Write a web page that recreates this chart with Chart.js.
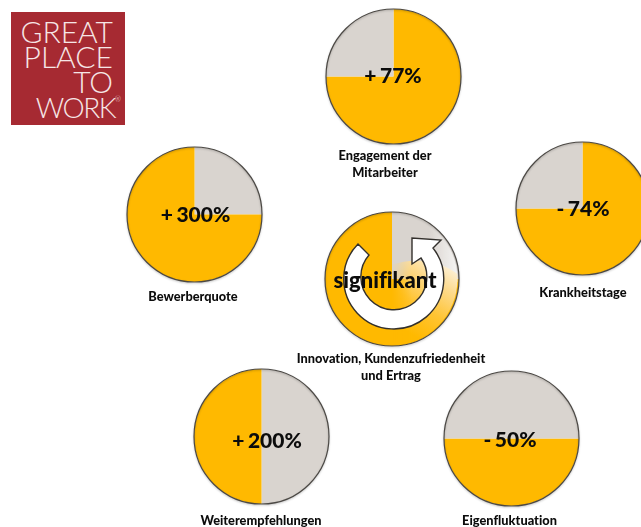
<!DOCTYPE html>
<html lang="de">
<head>
<meta charset="utf-8">
<title>Great Place to Work</title>
<script src="https://cdn.jsdelivr.net/npm/chart.js@4"></script>
<style>
    html, body { margin: 0; padding: 0; background: #fff; }
    #stage { position: relative; width: 641px; height: 527px; overflow: hidden; font-family: Lato, sans-serif; color: #0c0c0c; font-variant-ligatures: none; }
    #stage canvas { position: absolute; }
    #logo { position: absolute; left: 11px; top: 12px; width: 114px; height: 113px; background: #a62a32; }
    #logo span { position: absolute; right: 12px; color: #f6e6e6; font-size: 30px; font-weight: 300; line-height: 26px; white-space: nowrap; }
    #logo sup { position: absolute; left: 100%; top: 2px; font-size: 7px; line-height: 7px; }
    .label { position: absolute; font-weight: 900; font-size: 12.8px; line-height: 17px; text-align: center; white-space: nowrap; transform: translate(-50%, -50%); }
    .value { position: absolute; font-weight: 900; font-size: 21px; line-height: 26px; word-spacing: -1.5px; white-space: nowrap; transform: translate(-50%, -50%); }
    .value.big { font-size: 22px; }
    #swirl { position: absolute; left: 0; top: 0; }
</style>
</head>
<body>
<div id="stage">
    <div id="logo">
        <span style="top: 6px">GREAT</span>
        <span style="top: 31px">PLACE</span>
        <span style="top: 56px">TO</span>
        <span style="top: 82px; right: 10px; letter-spacing: -1.5px; font-size: 28px">WORK<sup>®</sup></span>
    </div>
</div>

<script>
// Kennzahlen je Kreis
const names = ['Engagement der\nMitarbeiter', 'Bewerberquote', 'Krankheitstage', 'Innovation, Kundenzufriedenheit\nund Ertrag', 'Weiterempfehlungen', 'Eigenfluktuation'];
const valueLabels = ['+ 77%', '+ 300%', '- 74%', 'signifikant', '+ 200%', '- 50%'];
const orangeShare = [75, 75, 75, 75, 50, 50];
const greyShare = [25, 25, 25, 25, 50, 50];
// Reihenfolge der Segmente und Startwinkel
const orangeFirst = [true, false, true, false, false, true];
const startAngle = [0, 0, 0, 0, 0, 90];

// Layout: Kreismitte, Radius, Position der Texte
const centers = [[393, 76], [194.5, 214.5], [582, 208], [391.5, 279], [261, 436], [511, 438.5]];
const radii = [67.5, 67.5, 66.5, 67, 67.5, 67.5];
const labelPos = [[385, 163.5], [193, 296], [583, 292], [391, 366.5], [261, 520], [509.5, 520]];
const valuePos = [[393, 75], [195.5, 214], [583, 208], [385, 280], [267, 440], [510, 439]];

const ORANGE = '#ffb900';
const GREY = '#d9d4cf';
const stage = document.getElementById('stage');

// Umriss mit leichtem Schatten um den Kreis
const outlinePlugin = {
    id: 'outline',
    afterDatasetsDraw(chart) {
        const arc = chart.getDatasetMeta(0).data[0];
        const ctx = chart.ctx;
        ctx.save();
        ctx.beginPath();
        ctx.arc(arc.x, arc.y, arc.outerRadius, 0, Math.PI * 2);
        ctx.strokeStyle = '#4b4844';
        ctx.lineWidth = 1.2;
        ctx.shadowColor = 'rgba(0, 0, 0, 0.25)';
        ctx.shadowBlur = 2;
        ctx.shadowOffsetY = 1;
        ctx.stroke();
        ctx.restore();
    }
};

names.forEach((name, i) => {
    const canvas = document.createElement('canvas');
    const size = Math.ceil(radii[i] * 2) + 10;
    canvas.width = size;
    canvas.height = size;
    canvas.style.left = (centers[i][0] - size / 2) + 'px';
    canvas.style.top = (centers[i][1] - size / 2) + 'px';
    stage.appendChild(canvas);

    const shares = orangeFirst[i] ? [orangeShare[i], greyShare[i]] : [greyShare[i], orangeShare[i]];
    const colors = orangeFirst[i] ? [ORANGE, GREY] : [GREY, ORANGE];

    new Chart(canvas, {
        type: 'pie',
        data: {
            labels: ['Anteil', 'Rest'],
            datasets: [{
                data: shares,
                backgroundColor: colors,
                borderWidth: 0,
                radius: radii[i]
            }]
        },
        options: {
            responsive: false,
            animation: false,
            rotation: startAngle[i],
            events: [],
            plugins: { legend: { display: false }, tooltip: { enabled: false } }
        },
        plugins: [outlinePlugin]
    });
});

// Pfeilkreis und Glanz auf dem mittleren Kreis
const swirl = `
<svg id="swirl" width="641" height="527" xmlns="http://www.w3.org/2000/svg">
  <defs>
    <clipPath id="disc"><circle cx="391.5" cy="279" r="66"/></clipPath>
    <linearGradient id="gloss" gradientUnits="userSpaceOnUse" x1="408" y1="332" x2="452" y2="262">
      <stop offset="0" stop-color="#ffb900"/>
      <stop offset="0.35" stop-color="#ffc433"/>
      <stop offset="0.7" stop-color="#fddb90"/>
      <stop offset="1" stop-color="#fdf6e8"/>
    </linearGradient>
    <linearGradient id="fadeLeft" gradientUnits="userSpaceOnUse" x1="391.5" y1="0" x2="412" y2="0">
      <stop offset="0" stop-color="#fff" stop-opacity="0"/>
      <stop offset="1" stop-color="#fff"/>
    </linearGradient>
    <mask id="glossMask"><rect x="380" y="240" width="100" height="120" fill="url(#fadeLeft)"/></mask>
    <linearGradient id="sheen" gradientUnits="userSpaceOnUse" x1="428" y1="0" x2="460" y2="0">
      <stop offset="0" stop-color="#fff" stop-opacity="0"/>
      <stop offset="1" stop-color="#fff" stop-opacity="0.8"/>
    </linearGradient>
  </defs>
  <g clip-path="url(#disc)">
    <rect x="428" y="212" width="36" height="70" fill="url(#sheen)"/>
    <path d="M391.5 279 L391.5 265 A 72 72 0 0 1 464 279 L464 346 L391.5 346 Z" fill="url(#gloss)" mask="url(#glossMask)"/>
  </g>
  <path d="M358 244 A50 50 0 1 0 433 248 L441 240 L412 238 L412 264 L421 258 A33 33 0 1 1 369 255 Z"
        fill="#fff" stroke="#33302c" stroke-width="1.4" stroke-linejoin="miter"/>
</svg>`;
stage.insertAdjacentHTML('beforeend', swirl);

// Texte liegen über den Kreisen
names.forEach((name, i) => {
    const label = document.createElement('div');
    label.className = 'label';
    label.innerHTML = name.replace('\n', '<br>');
    label.style.left = labelPos[i][0] + 'px';
    label.style.top = labelPos[i][1] + 'px';
    stage.appendChild(label);

    const value = document.createElement('div');
    value.className = valueLabels[i] === 'signifikant' ? 'value big' : 'value';
    value.textContent = valueLabels[i];
    value.style.left = valuePos[i][0] + 'px';
    value.style.top = valuePos[i][1] + 'px';
    stage.appendChild(value);
});
</script>
</body>
</html>
